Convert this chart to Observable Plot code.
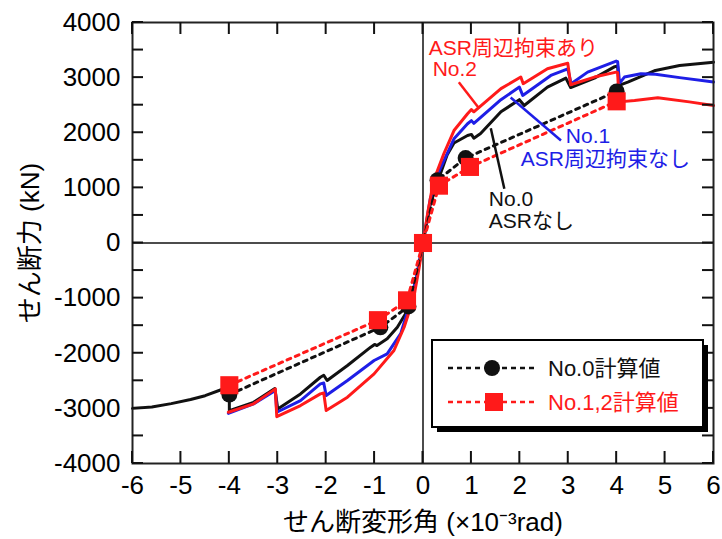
<!DOCTYPE html>
<html>
<head>
<meta charset="utf-8">
<script src="https://cdn.jsdelivr.net/npm/d3@7"></script>
<script src="https://cdn.jsdelivr.net/npm/@observablehq/plot@0.6"></script>
<style>
  html, body { margin: 0; padding: 0; background: #fff; }
  #chart svg { display: block; }
</style>
</head>
<body>
<div id="chart"></div>
<script>
// ---------- data (x: shear deformation angle ×10^-3 rad, y: shear force kN) ----------
const xTicks = [-6, -5, -4, -3, -2, -1, 0, 1, 2, 3, 4, 5, 6];
const yLabelTicks = [-4000, -3000, -2000, -1000, 0, 1000, 2000, 3000, 4000];
const yMinorTicks = [-4000, -3500, -3000, -2500, -2000, -1500, -1000, -500, 0, 500, 1000, 1500, 2000, 2500, 3000, 3500, 4000];

// No.0 (ASRなし) measured envelope
const no0Curve = [
  [-6, -3000], [-5.6, -2975], [-5.2, -2914], [-4.8, -2840], [-4.5, -2770], [-4.1, -2640],
  [-4.0, -2720], [-4.0, -3040], [-3.5, -2890], [-3.06, -2640], [-3.0, -3010],
  [-2.53, -2737], [-2.12, -2435], [-2.05, -2400], [-1.98, -2495], [-1.56, -2223],
  [-1.08, -1890], [-1.0, -1840], [-0.95, -1860], [-0.74, -1739], [-0.53, -1528],
  [-0.32, -1225], [-0.15, -700], [0, 0],
  [0.15, 700], [0.33, 1186], [0.5, 1600], [0.64, 1815], [0.92, 1950], [1.0, 1970],
  [1.05, 1900], [1.19, 1985], [1.61, 2380], [1.99, 2600], [2.09, 2495], [2.57, 2828],
  [2.95, 2990], [3.05, 2820], [3.54, 2990], [3.96, 3200], [4.02, 3210], [4.05, 2860],
  [4.23, 2918], [4.8, 3130], [5.3, 3220], [6, 3280]
];

// No.1 (ASR周辺拘束なし) measured envelope
const no1Curve = [
  [-4.02, -3090], [-3.5, -2918], [-3.05, -2677], [-3.02, -3070], [-2.53, -2858],
  [-2.12, -2555], [-2.05, -2540], [-2.0, -2768], [-1.56, -2495], [-1.01, -2132],
  [-0.74, -2010], [-0.46, -1645], [-0.25, -1044], [-0.12, -560], [0, 0],
  [0.15, 800], [0.33, 1300], [0.64, 1890], [0.92, 2163], [1.0, 2220], [1.05, 2170],
  [1.61, 2600], [1.99, 2828], [2.06, 2677], [2.64, 3040], [2.99, 3160], [3.06, 2889],
  [3.4, 3100], [3.99, 3300], [4.02, 3290], [4.06, 2900], [4.16, 3010], [4.5, 3070],
  [4.8, 3060], [5.3, 3000], [6, 2920]
];

// No.2 (ASR周辺拘束あり) measured envelope
const no2Curve = [
  [-4.02, -3070], [-3.5, -2918], [-3.05, -2646], [-3.02, -3150], [-2.53, -2949],
  [-2.12, -2737], [-2.05, -2720], [-2.0, -3040], [-1.56, -2798], [-1.01, -2374],
  [-0.6, -1950], [-0.39, -1528], [-0.19, -984], [-0.08, -450], [0, 0],
  [0.1, 560], [0.22, 1134], [0.43, 1619], [0.64, 2040], [0.92, 2345], [1.0, 2420],
  [1.05, 2380], [1.61, 2800], [2.02, 3010], [2.07, 2890], [2.57, 3160], [2.99, 3260],
  [3.05, 2870], [3.54, 3010], [3.99, 3100], [4.02, 3090], [4.05, 2560], [4.37, 2585],
  [4.85, 2635], [5.5, 2560], [6, 2495]
];

// calculated values
const no0Calc = [[-4, -2750], [-0.88, -1530], [-0.3, -1150], [0, 0], [0.3, 1140], [0.88, 1540], [4, 2750]];
const no12Calc = [[-4, -2580], [-0.93, -1400], [-0.33, -1040], [0, 0], [0.33, 1040], [0.97, 1380], [4, 2570]];

// annotation labels
const annoText = ["ASR周辺拘束あり", "No.2", "No.1", "ASR周辺拘束なし", "No.0", "ASRなし"];
const annoX = [0.12, 0.2, 2.95, 2.02, 1.36, 1.36];
const annoY = [3530, 3150, 1930, 1520, 790, 390];
const annoColor = ["#ff1a1a", "#ff1a1a", "#1e1ee6", "#1e1ee6", "#111", "#111"];
// leader lines [x1, y1, x2, y2, colour]
const leaders = [
  [0.74, 2918, 1.16, 2440, "#ff1a1a"],
  [2.85, 1860, 1.81, 2640, "#1e1ee6"],
  [1.68, 984, 1.40, 2080, "#111"]
];

const legendLabels = ["No.0計算値", "No.1,2計算値"];
const xTitle = "せん断変形角 (×10⁻³rad)";
const yTitle = "せん断力 (kN)";

const RED = "#ff1a1a", BLUE = "#1e1ee6", BLACK = "#111";
const FONT = "'Liberation Sans', Arial, 'Noto Sans CJK JP', sans-serif";

const annos = annoText.map((t, i) => ({t, x: annoX[i], y: annoY[i], c: annoColor[i]}));

const chart = Plot.plot({
  width: 722,
  height: 539,
  marginLeft: 132,
  marginRight: 9,
  marginTop: 22,
  marginBottom: 76,
  x: {domain: [-6, 6]},
  y: {domain: [-4000, 4000]},
  style: {fontFamily: FONT, fontSize: "26px", color: "#000", background: "#fff", overflow: "visible"},
  marks: [
    Plot.ruleY([0], {stroke: "#111", strokeWidth: 1.5}),
    Plot.ruleX([0], {stroke: "#111", strokeWidth: 1.5}),
    Plot.line(no0Curve, {x: d => d[0], y: d => d[1], stroke: BLACK, strokeWidth: 3}),
    Plot.line(no1Curve, {x: d => d[0], y: d => d[1], stroke: BLUE, strokeWidth: 3}),
    Plot.line(no2Curve, {x: d => d[0], y: d => d[1], stroke: RED, strokeWidth: 3}),
    Plot.line(no0Calc, {x: d => d[0], y: d => d[1], stroke: BLACK, strokeWidth: 3, strokeDasharray: "4,5"}),
    Plot.line(no12Calc, {x: d => d[0], y: d => d[1], stroke: RED, strokeWidth: 3, strokeDasharray: "4,5"}),
    Plot.dot(no0Calc, {x: d => d[0], y: d => d[1], r: 8, fill: BLACK, stroke: "none"}),
    Plot.dot(no12Calc, {x: d => d[0], y: d => d[1], symbol: "square", r: 10.2, fill: RED, stroke: "none"}),
    Plot.link(leaders, {x1: d => d[0], y1: d => d[1], x2: d => d[2], y2: d => d[3], stroke: d => d[4], strokeWidth: 2.5}),
    Plot.text(annos, {x: "x", y: "y", text: "t", fill: "c", textAnchor: "start", lineAnchor: "middle", fontSize: 21}),
    // tick labels + titles
    Plot.axisX(xTicks, {anchor: "bottom", tickSize: 0, tickPadding: 12, tickFormat: d => String(d),
      label: xTitle, labelAnchor: "center", labelArrow: "none", labelOffset: 67, fill: "#000"}),
    Plot.axisY(yLabelTicks, {anchor: "left", tickSize: 0, tickPadding: 12, tickFormat: d => String(d),
      label: yTitle, labelAnchor: "center", labelArrow: "none", labelOffset: 112, fill: "#000"}),
    Plot.frame({stroke: "#222", strokeWidth: 2})
  ]
});

document.getElementById("chart").appendChild(chart);

const svgSel = d3.select(chart);

// ---------- inward ticks on all four sides, placed with the plot's own scales ----------
const scaleX = chart.scale("x"), scaleY = chart.scale("y");
const frameLeft = scaleX.apply(-6), frameRight = scaleX.apply(6);
const frameTop = scaleY.apply(4000), frameBottom = scaleY.apply(-4000);
const tickG = svgSel.append("g").attr("stroke", "#111").attr("stroke-width", 2);
xTicks.forEach(t => {
  const px = scaleX.apply(t);
  tickG.append("line").attr("x1", px).attr("x2", px).attr("y1", frameBottom).attr("y2", frameBottom - 12);
  tickG.append("line").attr("x1", px).attr("x2", px).attr("y1", frameTop).attr("y2", frameTop + 12);
});
yMinorTicks.forEach(t => {
  const py = scaleY.apply(t);
  tickG.append("line").attr("x1", frameLeft).attr("x2", frameLeft + 11).attr("y1", py).attr("y2", py);
  tickG.append("line").attr("x1", frameRight).attr("x2", frameRight - 11).attr("y1", py).attr("y2", py);
});

// ---------- legend box (inside plot area) ----------
const legG = svgSel.append("g").attr("font-family", FONT).attr("text-anchor", "start");
const bx = 432, by = 340, bw = 271, bh = 87;
legG.append("rect").attr("x", bx + 5).attr("y", by + 5).attr("width", bw).attr("height", bh).attr("fill", "#000");
legG.append("rect").attr("x", bx).attr("y", by).attr("width", bw).attr("height", bh)
  .attr("fill", "#fff").attr("stroke", "#000").attr("stroke-width", 2);
const legRows = [
  {y: 368, color: BLACK, label: legendLabels[0], sym: "circle"},
  {y: 402, color: RED, label: legendLabels[1], sym: "square"}
];
legRows.forEach(r => {
  legG.append("line").attr("x1", 448).attr("x2", 537).attr("y1", r.y).attr("y2", r.y)
    .attr("stroke", r.color).attr("stroke-width", 2.5).attr("stroke-dasharray", "5,4");
  if (r.sym === "circle") {
    legG.append("circle").attr("cx", 492).attr("cy", r.y).attr("r", 8).attr("fill", r.color);
  } else {
    legG.append("rect").attr("x", 485).attr("y", r.y - 9).attr("width", 18).attr("height", 18).attr("fill", r.color);
  }
  legG.append("text").attr("x", 548).attr("y", r.y).attr("dy", "0.35em").attr("text-anchor", "start")
    .attr("font-size", 22).attr("fill", r.color === BLACK ? "#111" : r.color).text(r.label);
});
</script>
</body>
</html>
